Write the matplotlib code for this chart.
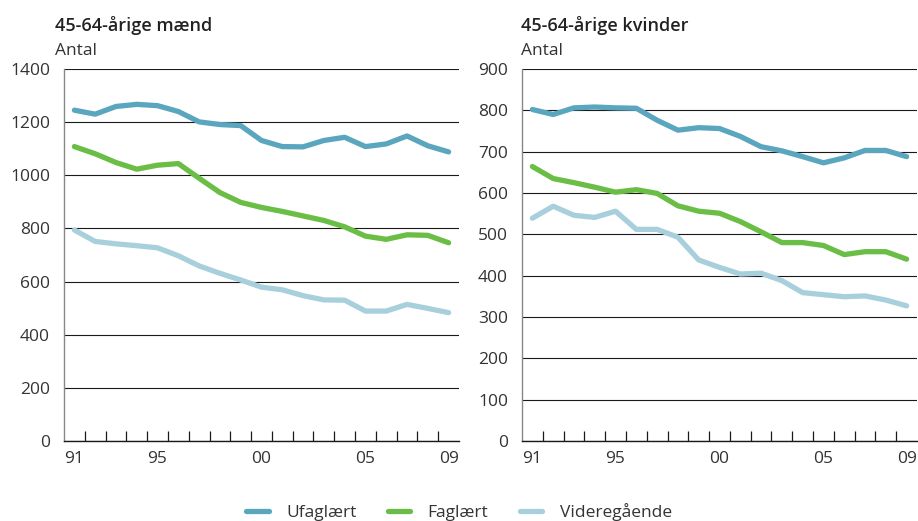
import matplotlib.pyplot as plt
from matplotlib.ticker import FixedLocator

plt.rcParams["font.family"] = ["Open Sans", "DejaVu Sans"]

years = list(range(1991, 2010))
tick_years = [1991, 1995, 2000, 2005, 2009]
tick_labels = ["91", "95", "00", "05", "09"]

# 45-64-årige mænd
maend_ufaglaert = [1245, 1230, 1259, 1267, 1262, 1240, 1201, 1191, 1187, 1131,
                   1108, 1107, 1131, 1143, 1108, 1118, 1148, 1111, 1088]
maend_faglaert = [1108, 1081, 1048, 1023, 1038, 1044, 989, 935, 898, 879,
                  864, 847, 830, 806, 771, 759, 776, 774, 746]
maend_videreg = [794, 751, 742, 735, 727, 697, 659, 631, 606, 579,
                 569, 547, 531, 530, 489, 489, 514, 499, 483]

# 45-64-årige kvinder
kvinder_ufaglaert = [802, 790, 806, 808, 806, 805, 776, 752, 758, 756,
                     737, 712, 702, 688, 673, 685, 703, 703, 688]
kvinder_faglaert = [664, 635, 625, 614, 602, 608, 599, 569, 556, 551,
                    531, 506, 480, 480, 473, 451, 458, 458, 440]
kvinder_videreg = [539, 568, 546, 541, 556, 512, 512, 493, 438, 420,
                   404, 406, 388, 359, 354, 349, 351, 341, 327]

farver = {"Ufaglært": "#5aa6bf", "Faglært": "#6abd45", "Videregående": "#a8cfdc"}
tekst = "#333333"

fig = plt.figure(figsize=(9.18, 5.21), dpi=100)
ax1 = fig.add_axes([64 / 918, 1 - 441 / 521, 395 / 918, 372 / 521])
ax2 = fig.add_axes([522 / 918, 1 - 441 / 521, 395 / 918, 372 / 521])


def tegn_panel(ax, serier, ymax, ystep, titel, tx):
    for navn, vaerdier in serier:
        ax.plot(years, vaerdier, color=farver[navn], lw=3.8,
                solid_capstyle="round", solid_joinstyle="round", label=navn)
    ax.set_xlim(1990.5, 2009.5)
    ax.set_ylim(0, ymax)
    ax.set_yticks(range(0, ymax + 1, ystep))
    ax.grid(axis="y", color="#1a1a1a", lw=0.8)
    ax.set_axisbelow(True)
    ax.set_xticks(tick_years)
    ax.set_xticklabels(tick_labels)
    ax.xaxis.set_minor_locator(FixedLocator([y + 0.5 for y in years[:-1]]))
    ax.tick_params(axis="x", which="major", length=0, pad=7,
                   labelsize=12.5, labelcolor=tekst)
    ax.tick_params(axis="x", which="minor", length=7, width=0.9,
                   direction="in", color="#1a1a1a")
    ax.tick_params(axis="y", length=0, pad=10, labelsize=12.5,
                   labelcolor=tekst)
    for s in ["top", "right"]:
        ax.spines[s].set_visible(False)
    ax.spines["left"].set_color("#888888")
    ax.spines["left"].set_linewidth(1.0)
    ax.spines["bottom"].set_color("#1a1a1a")
    ax.spines["bottom"].set_linewidth(1.0)
    fig.text(tx, 1 - 31 / 521, titel, fontsize=13, fontweight="semibold",
             color="#222222")
    fig.text(tx, 1 - 55 / 521, "Antal", fontsize=12.5, color=tekst)


tegn_panel(ax1, [("Ufaglært", maend_ufaglaert), ("Faglært", maend_faglaert),
                 ("Videregående", maend_videreg)],
           1400, 200, "45-64-årige mænd", 55 / 918)
tegn_panel(ax2, [("Ufaglært", kvinder_ufaglaert), ("Faglært", kvinder_faglaert),
                 ("Videregående", kvinder_videreg)],
           900, 100, "45-64-årige kvinder", 521 / 918)

handles, labels = ax1.get_legend_handles_labels()
leg = fig.legend(handles, labels, loc="lower center", ncol=3, frameon=False,
                 bbox_to_anchor=(0.5, -0.03), handlelength=1.3,
                 handletextpad=1.0, columnspacing=1.8, fontsize=12.5)
for t in leg.get_texts():
    t.set_color(tekst)

fig.savefig("out.png", dpi=100)
